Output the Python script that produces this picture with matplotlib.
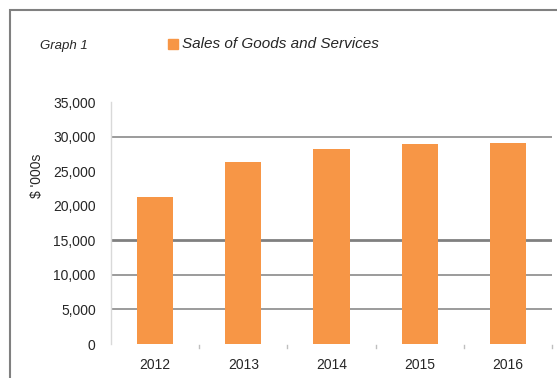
import matplotlib
matplotlib.use("Agg")
import matplotlib.pyplot as plt
from matplotlib.patches import Rectangle
import numpy as np

years = ["2012", "2013", "2014", "2015", "2016"]
sales = [21300, 26300, 28200, 28900, 29000]
y_ticks = [0, 5000, 10000, 15000, 20000, 25000, 30000, 35000]
grid_levels = [5000, 10000, 15000, 30000]

W, H = 557, 378
fig = plt.figure(figsize=(W / 100, H / 100), dpi=100)
fig.patch.set_facecolor("white")

ax = fig.add_axes([111 / W, (H - 344) / H, (552 - 111) / W, (344 - 102) / H])
x = np.arange(len(years))
ax.bar(x, sales, width=0.41, color="#F79646", zorder=3)
ax.set_xlim(-0.5, len(years) - 0.5)
ax.set_ylim(0, 35000)

for g in grid_levels:
    ax.axhline(g, color="#808080", lw=2.0 if g == 15000 else 1.1, zorder=1)

for s in ["top", "right", "bottom"]:
    ax.spines[s].set_visible(False)
ax.spines["left"].set_color("#D9D9D9")
ax.spines["left"].set_linewidth(1.0)

ax.set_yticks(y_ticks)
ax.set_yticklabels([f"{v:,}" for v in y_ticks])
ax.tick_params(axis="y", length=0, pad=11, labelsize=10, labelcolor="#262626")
ax.set_xticks(x)
ax.set_xticklabels(years)
ax.tick_params(axis="x", length=0, pad=10, labelsize=10, labelcolor="#262626")
for b in np.arange(0.5, len(years), 1.0):
    ax.plot([b, b], [-0.004, -0.018], transform=ax.get_xaxis_transform(),
            color="#BFBFBF", lw=1, clip_on=False)

for lab in ax.get_xticklabels() + ax.get_yticklabels():
    lab.set_family("Liberation Sans")

fig.text(37 / W, 1 - 176 / H, "$ '000s", rotation=90, ha="center", va="center",
         fontsize=10, color="#262626", family="Liberation Sans")

fig.text(40 / W, 1 - 46 / H, "Graph 1", ha="left", va="center",
         fontsize=9.5, style="italic", color="#262626", family="Liberation Sans")

fig.patches.append(Rectangle((168 / W, 1 - 49 / H), 10 / W, 10 / H,
                             transform=fig.transFigure, color="#F79646"))
fig.text(182 / W, 1 - 44 / H, "Sales of Goods and Services", ha="left", va="center",
         fontsize=11, style="italic", color="#262626", family="Liberation Sans")

fig.patches.append(Rectangle((9.5 / W, -0.1), 1.2, 1 - 9.5 / H + 0.1,
                             transform=fig.transFigure, fill=False,
                             edgecolor="#808080", lw=1.5))

fig.savefig("out.png", dpi=100)
